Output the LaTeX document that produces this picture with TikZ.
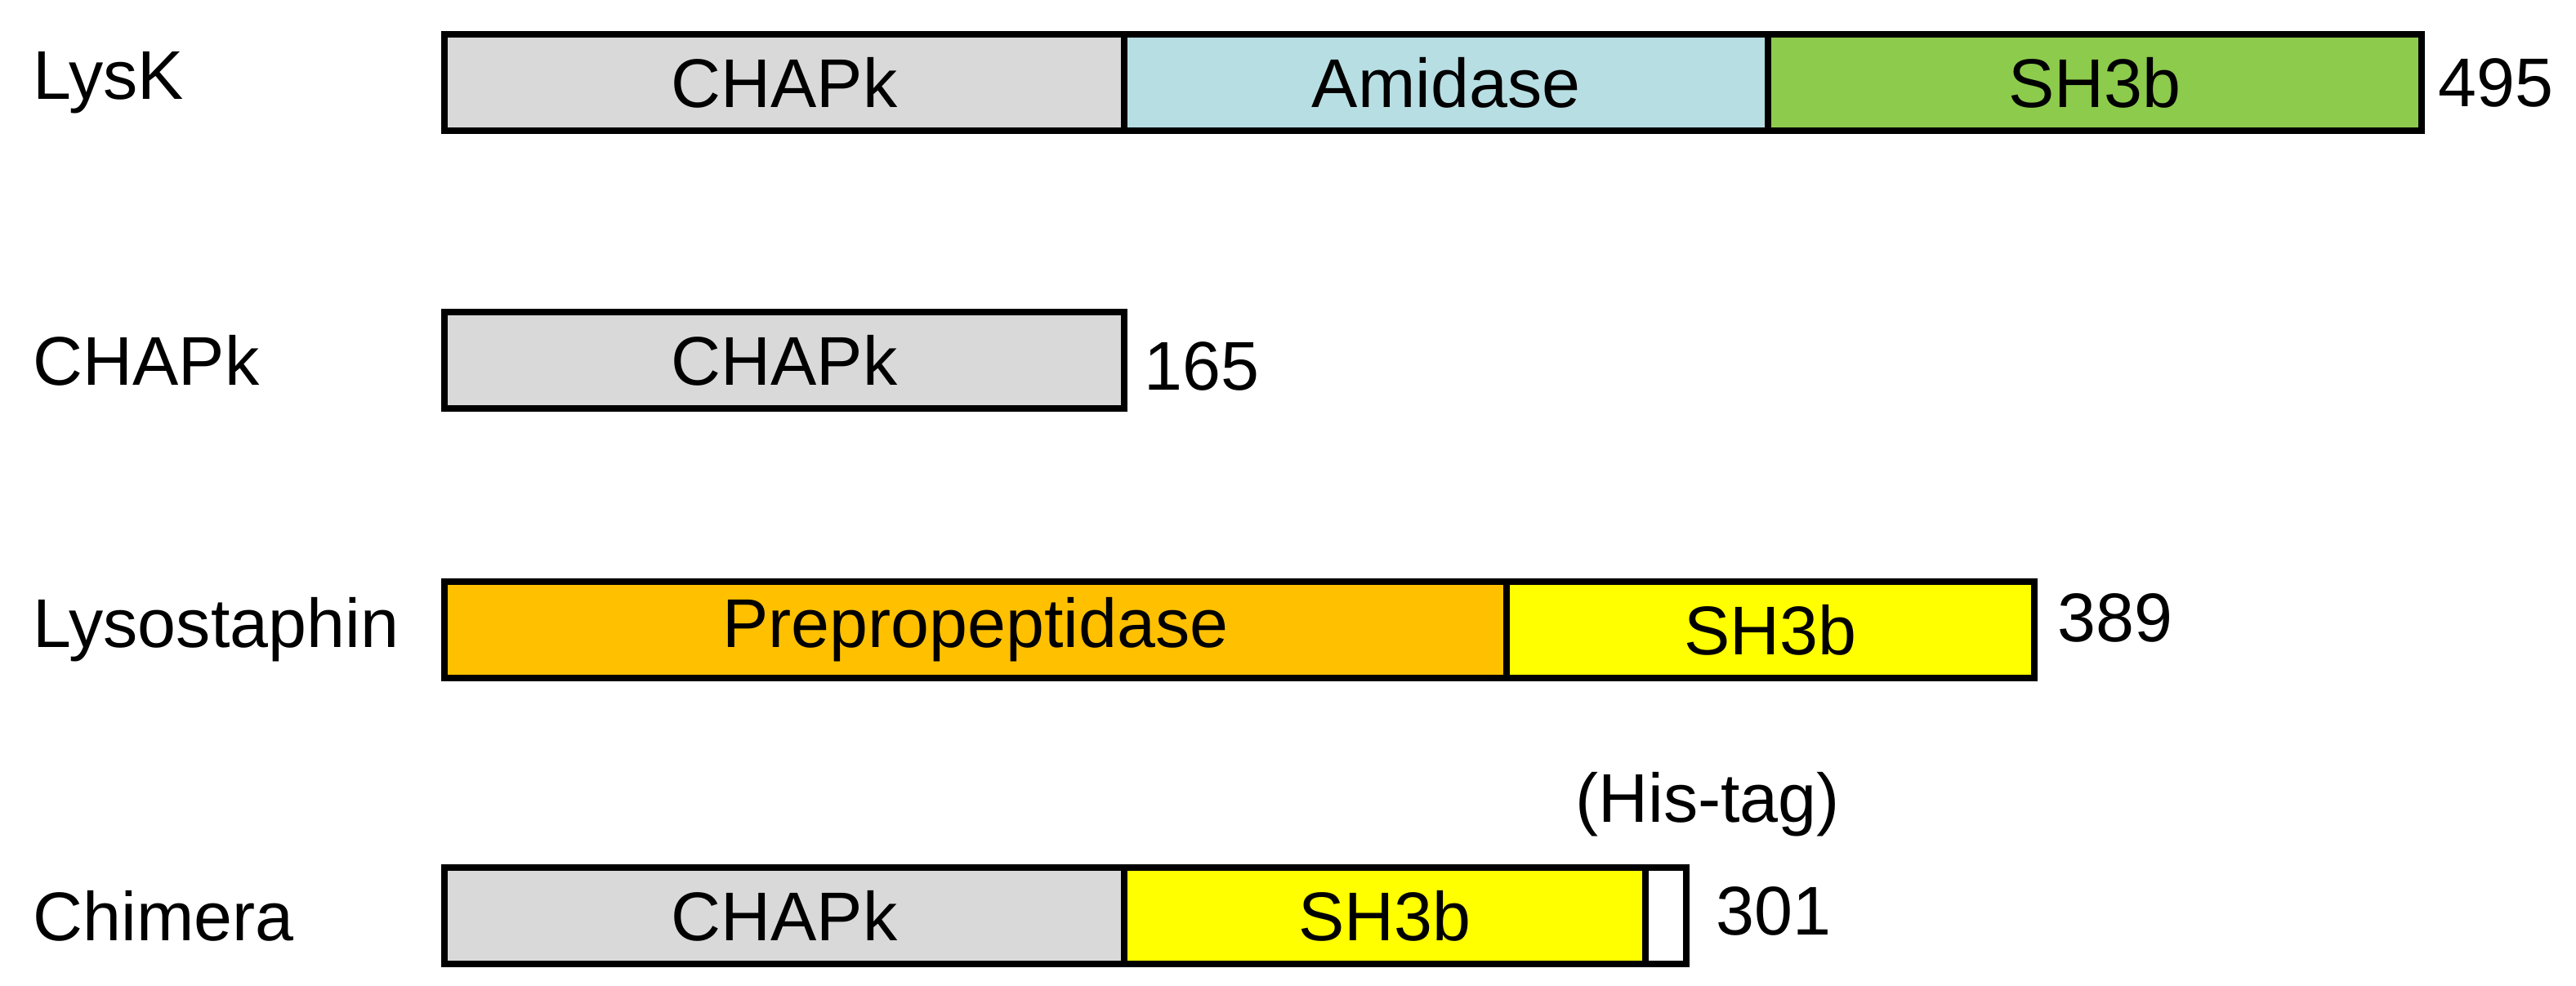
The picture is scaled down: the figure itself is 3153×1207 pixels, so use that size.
\documentclass[tikz,border=0pt]{standalone}
\usepackage{fontspec}
\setmainfont{Liberation Sans}
\definecolor{cg}{HTML}{D9D9D9}
\definecolor{cb}{HTML}{B7DEE3}
\definecolor{cgr}{HTML}{8DCB4C}
\definecolor{co}{HTML}{FFC000}
\definecolor{cy}{HTML}{FFFF00}
\tikzset{dom/.style={draw=black,line width=2.4pt},
lab/.style={anchor=west,font=\fontsize{24}{28}\selectfont,inner sep=0pt},
dl/.style={font=\fontsize{24}{28}\selectfont,inner sep=0pt}}
\begin{document}
\begin{tikzpicture}[x=0.01cm,y=-0.01cm]
\useasboundingbox (0,0) rectangle (3153,1207);
% LysK
\draw[dom,fill=cg] (544,42) rectangle (1376,160);
\draw[dom,fill=cb] (1376,42) rectangle (2164,160);
\draw[dom,fill=cgr] (2164,42) rectangle (2964,160);
\node[dl] (a1) at (960,101) {CHAPk};
\node[dl] (a2) at (1770,101) {Amidase};
\node[dl] (a3) at (2564,101) {SH3b};
\node[lab] (l1) at (40,101) {LysK};
\node[lab] (n1) at (2984,101) {495};
% CHAPk
\draw[dom,fill=cg] (544,382) rectangle (1376,500);
\node[dl] (b1) at (960,441) {CHAPk};
\node[lab] (l2) at (40,441) {CHAPk};
\node[lab] (n2) at (1400,448) {165};
% Lysostaphin
\draw[dom,fill=co] (544,712) rectangle (1844,830);
\draw[dom,fill=cy] (1844,712) rectangle (2490,830);
\node[dl] (c1) at (1194,771) {Prepropeptidase};
\node[dl] (c2) at (2167,771) {SH3b};
\node[lab] (l3) at (40,771) {Lysostaphin};
\node[lab] (n3) at (2518,756) {389};
% Chimera
\draw[dom,fill=cg] (544,1062) rectangle (1376,1180);
\draw[dom,fill=cy] (1376,1062) rectangle (2014,1180);
\draw[dom,fill=white] (2014,1062) rectangle (2064,1180);
\node[dl] (d1) at (960,1121) {CHAPk};
\node[dl] (d2) at (1695,1121) {SH3b};
\node[dl] (ht) at (2090,985) {(His-tag)};
\node[lab] (l4) at (40,1121) {Chimera};
\node[lab] (n4) at (2100,1115) {301};
\end{tikzpicture}
\end{document}
